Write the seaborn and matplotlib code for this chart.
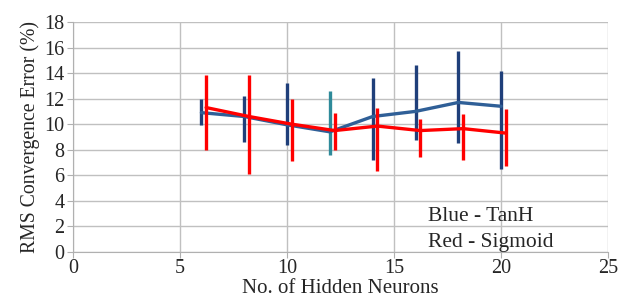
import numpy as np
import pandas as pd
import seaborn as sns
import matplotlib.pyplot as plt

# Werte
neurons_tanh = [6, 8, 10, 12, 14, 16, 18, 20]
tanh_mean = [10.9, 10.6, 9.95, 9.4, 10.6, 11.0, 11.7, 11.4]
tanh_high = [12.0, 12.2, 13.2, 12.6, 13.6, 14.6, 15.7, 14.2]
tanh_low = [9.9, 8.6, 8.4, 7.6, 7.2, 8.8, 8.5, 6.5]

neurons_sig = [6.22, 8.22, 10.22, 12.22, 14.22, 16.22, 18.22, 20.22]
sig_mean = [11.3, 10.6, 10.0, 9.5, 9.85, 9.5, 9.65, 9.3]
sig_high = [13.85, 13.85, 12.0, 10.9, 11.3, 10.4, 10.8, 11.2]
sig_low = [8.0, 6.1, 7.1, 8.0, 6.3, 7.4, 7.2, 6.7]

x_ticks = [0, 5, 10, 15, 20, 25]
y_ticks = [0, 2, 4, 6, 8, 10, 12, 14, 16, 18]

blue = "#2f5f97"
navy = "#1f3f7a"
teal = "#2e8a9a"
red = "#ff0000"

sns.set_style("white")
plt.rcParams['font.family'] = ['Liberation Serif', 'DejaVu Serif']

df_tanh = pd.DataFrame({"n": neurons_tanh, "err": tanh_mean})
df_sig = pd.DataFrame({"n": neurons_sig, "err": sig_mean})

fig = plt.figure(figsize=(6.29, 3.05), dpi=100)
ax = fig.add_axes([0.116, 0.174, 0.851, 0.754])

# Fehlerbalken TanH (der bei 12 ist tuerkis)
bar_cols = [teal if n == 12 else navy for n in neurons_tanh]
ax.vlines(neurons_tanh, tanh_low, tanh_high, colors=bar_cols, linewidth=2.4, zorder=3)
sns.lineplot(data=df_tanh, x="n", y="err", ax=ax, color=blue, linewidth=2.4, zorder=4)

ax.vlines(neurons_sig, sig_low, sig_high, colors=red, linewidth=2.4, zorder=5)
sns.lineplot(data=df_sig, x="n", y="err", ax=ax, color=red, linewidth=2.4, zorder=6)

ax.set_xlim(0, 25)
ax.set_ylim(0, 18)
ax.set_xticks(x_ticks)
ax.set_yticks(y_ticks)
ax.grid(True, color="#c0c0c0", linewidth=1.0)
for s in ["top", "right"]:
    ax.spines[s].set_visible(False)
ax.spines["left"].set_color("#b0b0b0")
ax.spines["bottom"].set_color("#b0b0b0")
ax.tick_params(axis="y", left=True, length=4, color="#b0b0b0", labelsize=14.5, pad=2)
ax.tick_params(axis="x", bottom=True, length=4, color="#b0b0b0", labelsize=14.5, pad=1)

ax.set_xlabel("No. of Hidden Neurons", fontsize=15, labelpad=1)
ax.set_ylabel("RMS Convergence Error (%)", fontsize=14.2, labelpad=3)

ax.text(16.6, 2.75, "Blue - TanH", fontsize=15.5, va="center")
ax.text(16.6, 0.75, "Red - Sigmoid", fontsize=15.5, va="center")

fig.savefig("out.png", dpi=100)
